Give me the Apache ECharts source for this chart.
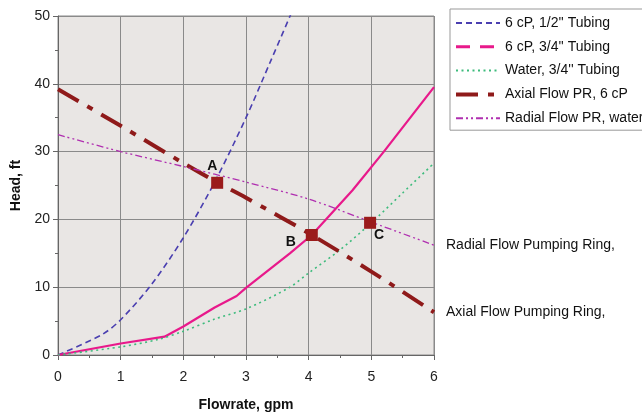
<!DOCTYPE html>
<html>
<head>
<meta charset="utf-8">
<script src="https://cdn.jsdelivr.net/npm/echarts@6/dist/echarts.min.js"></script>
<style>
  html, body { margin: 0; padding: 0; background: #fff; }
  #chart { width: 642px; height: 414px; }
</style>
</head>
<body>
<div id="chart"></div>
<script>
// flowrate (gpm), head (ft) pairs
const tubeHalf6cP = [[0, 0], [0.7, 3], [1, 5.2], [1.5, 10.5], [2, 17.3], [2.5, 25.5], [3, 35], [3.4, 43.5], [3.75, 51]];
const tubeThreeQ6cP = [[0, 0], [1, 1.7], [1.7, 2.7], [2, 4.2], [2.5, 7], [2.85, 8.7], [3, 9.9], [3.7, 15], [4.05, 17.7], [4.7, 24.3], [5.2, 30], [6, 39.5]];
const tubeThreeQWater = [[0, 0], [1, 1.2], [1.6, 2.3], [2, 3.5], [2.5, 5.3], [3, 6.8], [3.7, 10], [4, 12.1], [4.5, 15.5], [5, 19.5], [5.5, 23.9], [6, 28.3]];
const axialPR = [[0, 39.2], [1, 33.8], [2, 28.3], [2.55, 25.4], [3, 23.2], [4.05, 17.7], [5, 12.3], [6, 6.3]];
const radialPR = [[0, 32.5], [1, 30], [2, 27.8], [3, 25.5], [4, 23], [5, 19.6], [6, 16.2]];
const opPoints = [['A', 2.54, 25.4], ['B', 4.05, 17.7], ['C', 4.98, 19.5]];
const seriesNames = ['6 cP, 1/2\'\' Tubing', '6 cP, 3/4\'\' Tubing', 'Water, 3/4\'\' Tubing', 'Axial Flow PR, 6 cP', 'Radial Flow PR, water'];

const chart = echarts.init(document.getElementById('chart'), null, { renderer: 'canvas' });

const font = 'Liberation Sans, Arial, sans-serif';
const dark = '#8f1a1a';

chart.setOption({
  animation: false,
  textStyle: { fontFamily: font },
  grid: {
    left: 58, right: 208, top: 16, bottom: 59,
    outerBoundsMode: 'none',
    show: true, backgroundColor: '#e9e6e4', borderColor: '#8a8a8a', borderWidth: 1
  },
  legend: {
    orient: 'vertical',
    left: 450, top: 9,
    backgroundColor: '#fff',
    borderColor: '#999', borderWidth: 1,
    padding: [7, 6, 5, 4],
    itemWidth: 44, itemHeight: 12, itemGap: 9.8,
    itemStyle: { opacity: 0 },
    textStyle: { fontSize: 14, color: '#111', fontFamily: font },
    data: [
      { name: seriesNames[0] },
      { name: seriesNames[1], lineStyle: { type: [14, 10], width: 3 } },
      { name: seriesNames[2] },
      { name: seriesNames[3], lineStyle: { type: [22, 10, 6, 10], width: 4 } },
      { name: seriesNames[4] }
    ]
  },
  xAxis: {
    type: 'value', min: 0, max: 6, interval: 1,
    name: 'Flowrate, gpm', nameLocation: 'middle', nameGap: 43,
    nameTextStyle: { fontSize: 14, fontWeight: 'bold', color: '#111' },
    axisLine: { show: true, lineStyle: { color: '#666' } },
    axisTick: { show: true, length: 5, lineStyle: { color: '#666' } },
    minorTick: { show: true, splitNumber: 2, length: 3, lineStyle: { color: '#666' } },
    axisLabel: { fontSize: 14, color: '#222', margin: 15 },
    splitLine: { show: true, lineStyle: { color: '#8a8a8a', width: 1 } }
  },
  yAxis: {
    type: 'value', min: 0, max: 50, interval: 10,
    name: 'Head, ft', nameLocation: 'middle', nameGap: 34,
    nameTextStyle: { fontSize: 14, fontWeight: 'bold', color: '#111' },
    axisLine: { show: true, lineStyle: { color: '#666' } },
    axisTick: { show: true, length: 5, lineStyle: { color: '#666' } },
    minorTick: { show: true, splitNumber: 2, length: 3, lineStyle: { color: '#666' } },
    axisLabel: { fontSize: 14, color: '#222', margin: 8 },
    splitLine: { show: true, lineStyle: { color: '#8a8a8a', width: 1 } }
  },
  series: [
    {
      name: seriesNames[0], type: 'line', data: tubeHalf6cP, symbol: 'none', smooth: 0.3,
      lineStyle: { color: '#4a3fb0', width: 1.6, type: [6, 4] }, itemStyle: { color: '#4a3fb0' }
    },
    {
      name: seriesNames[1], type: 'line', data: tubeThreeQ6cP, symbol: 'none',
      lineStyle: { color: '#e8198b', width: 2.2 }, itemStyle: { color: '#e8198b' }
    },
    {
      name: seriesNames[2], type: 'line', data: tubeThreeQWater, symbol: 'none', smooth: 0.3,
      lineStyle: { color: '#3dbb7c', width: 1.6, type: [2, 3.5] }, itemStyle: { color: '#3dbb7c' }
    },
    {
      name: seriesNames[3], type: 'line', data: axialPR, symbol: 'none', smooth: 0.3,
      lineStyle: { color: dark, width: 4, type: [24, 10, 6, 10] }, itemStyle: { color: dark },
      endLabel: {
        show: true, formatter: 'Axial Flow Pumping Ring,', distance: 12,
        fontSize: 14, color: '#111', fontFamily: font
      }
    },
    {
      name: seriesNames[4], type: 'line', data: radialPR, symbol: 'none', smooth: 0.3,
      lineStyle: { color: '#b02fb0', width: 1.3, type: [7, 3, 2, 3, 2, 3] }, itemStyle: { color: '#b02fb0' },
      endLabel: {
        show: true, formatter: 'Radial Flow Pumping Ring,', distance: 12,
        fontSize: 14, color: '#111', fontFamily: font
      }
    },
    {
      name: 'points', type: 'scatter', symbol: 'rect', symbolSize: 12, z: 5,
      itemStyle: { color: '#9b1b1b', opacity: 1 },
      data: opPoints.map(function (p, i) {
        const pos = [[-4, -18], [-20, 6], [10, 11]][i];
        return {
          value: [p[1], p[2]],
          label: {
            show: true, formatter: p[0], position: pos,
            fontSize: 14, fontWeight: 'bold', color: '#111', fontFamily: font
          }
        };
      })
    }
  ]
});
</script>
</body>
</html>
